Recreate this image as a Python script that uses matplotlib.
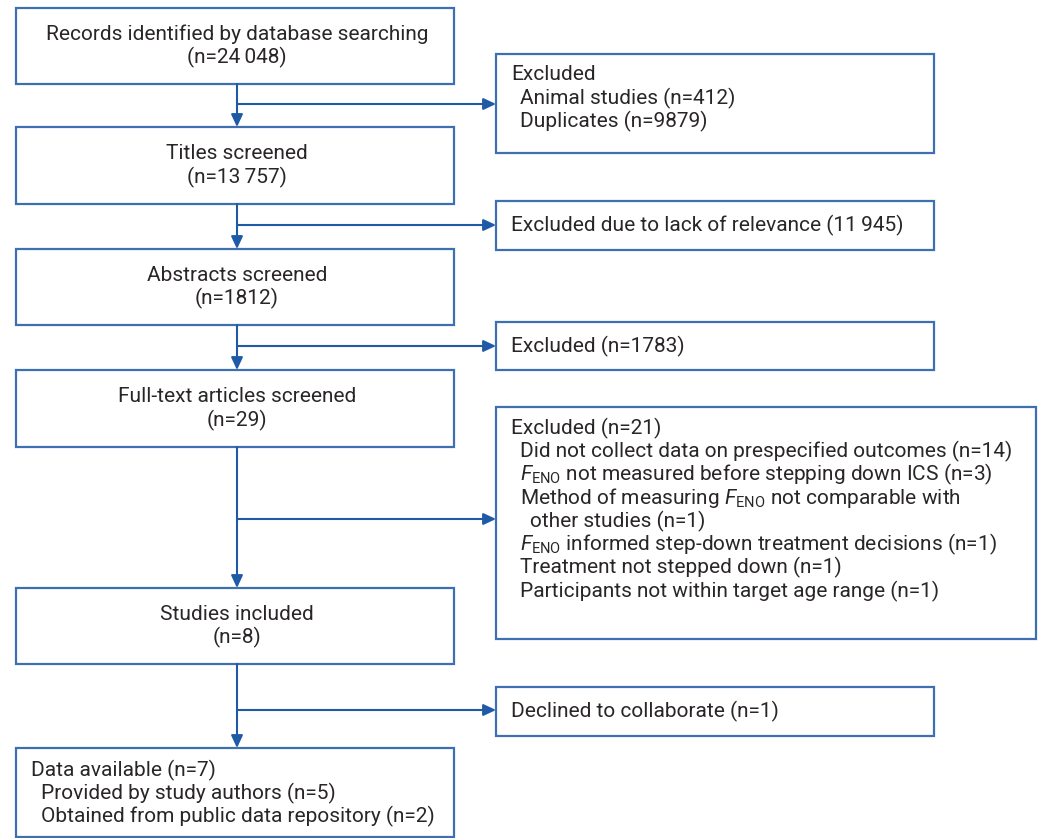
import matplotlib
matplotlib.use("Agg")
import matplotlib.pyplot as plt
from matplotlib.patches import Rectangle

plt.rcParams['font.family'] = ['Roboto', 'DejaVu Sans']
plt.rcParams['mathtext.fontset'] = 'custom'
plt.rcParams['mathtext.rm'] = 'Roboto'
plt.rcParams['mathtext.it'] = 'Roboto:italic'

FENO = r'$F_{\mathrm{ENO}}$'

# Main flow boxes (text lines)
main_texts = [
    ["Records identified by database searching", "(n=24\u2009048)"],
    ["Titles screened", "(n=13\u2009757)"],
    ["Abstracts screened", "(n=1812)"],
    ["Full-text articles screened", "(n=29)"],
    ["Studies included", "(n=8)"],
]
final_texts = [("Data available (n=7)", 0),
               ("Provided by study authors (n=5)", 1),
               ("Obtained from public data repository (n=2)", 1)]

excl_texts = [
    [("Excluded", 0), ("Animal studies (n=412)", 1), ("Duplicates (n=9879)", 1)],
    [("Excluded due to lack of relevance (11\u2009945)", 0)],
    [("Excluded (n=1783)", 0)],
    [("Excluded (n=21)", 0),
     ("Did not collect data on prespecified outcomes (n=14)", 1),
     (FENO + " not measured before stepping down ICS (n=3)", 1),
     ("Method of measuring " + FENO + " not comparable with", 1),
     ("other studies (n=1)", 2),
     (FENO + " informed step-down treatment decisions (n=1)", 1),
     ("Treatment not stepped down (n=1)", 1),
     ("Participants not within target age range (n=1)", 1)],
    [("Declined to collaborate (n=1)", 0)],
]

# Layout (pixel coordinates)
W, H = 1041, 838
main_x0, main_x1 = 16, 454
main_y = [(8, 84), (127, 204), (249, 325), (370, 447), (588, 664)]
final_y = (748, 837)
excl_x0 = 496
excl_x1 = [934, 934, 934, 1036, 934]
excl_y = [(54, 153), (201, 250), (322, 370), (407, 639), (687, 736)]
arrow_y = [104, 225, 346, 519, 710]
spine_x = 237

TXT = '#2a2628'
BOX = '#3d6fb1'
LINE = '#1f5aa6'
FS = 15.0
LH = 23.3

fig = plt.figure(figsize=(W / 100, H / 100), dpi=100)
ax = fig.add_axes([0, 0, 1, 1])
ax.set_xlim(0, W)
ax.set_ylim(H, 0)
ax.axis('off')


def box(x0, y0, x1, y1):
    ax.add_patch(Rectangle((x0, y0), x1 - x0, y1 - y0, fill=False,
                           edgecolor=BOX, linewidth=1.6, zorder=2))


def arrow(x0, y0, x1, y1):
    ax.annotate('', xy=(x1, y1), xytext=(x0, y0),
                arrowprops=dict(arrowstyle='-|>,head_length=0.75,head_width=0.35',
                                color=LINE, lw=1.5, shrinkA=0, shrinkB=0),
                zorder=3)


# main boxes
for (y0, y1), lines in zip(main_y, main_texts):
    box(main_x0, y0, main_x1, y1)
    cy = (y0 + y1) / 2
    n = len(lines)
    for i, t in enumerate(lines):
        ax.text(spine_x, cy + (i - (n - 1) / 2) * LH, t, ha='center', va='center',
                fontsize=FS, color=TXT)

box(main_x0, final_y[0], main_x1, final_y[1])
for i, (t, ind) in enumerate(final_texts):
    ax.text(31 + 10 * ind, 770 + i * LH, t, ha='left', va='center',
            fontsize=FS, color=TXT)

# vertical arrows between main boxes
all_main = main_y + [final_y]
for k in range(len(all_main) - 1):
    arrow(spine_x, all_main[k][1], spine_x, all_main[k + 1][0])

# exclusion boxes and side arrows
for (y0, y1), x1, ay, lines in zip(excl_y, excl_x1, arrow_y, excl_texts):
    box(excl_x0, y0, x1, y1)
    arrow(spine_x, ay, excl_x0, ay)
    n = len(lines)
    cy = (y0 + y1) / 2
    if n == 1:
        ys = [cy]
    else:
        ys = [y0 + 21 + i * LH for i in range(n)]
    for yy, (t, ind) in zip(ys, lines):
        ax.text(511 + 9.5 * ind, yy, t, ha='left', va='center',
                fontsize=FS, color=TXT)

fig.savefig('out.png', dpi=100, facecolor='white')
